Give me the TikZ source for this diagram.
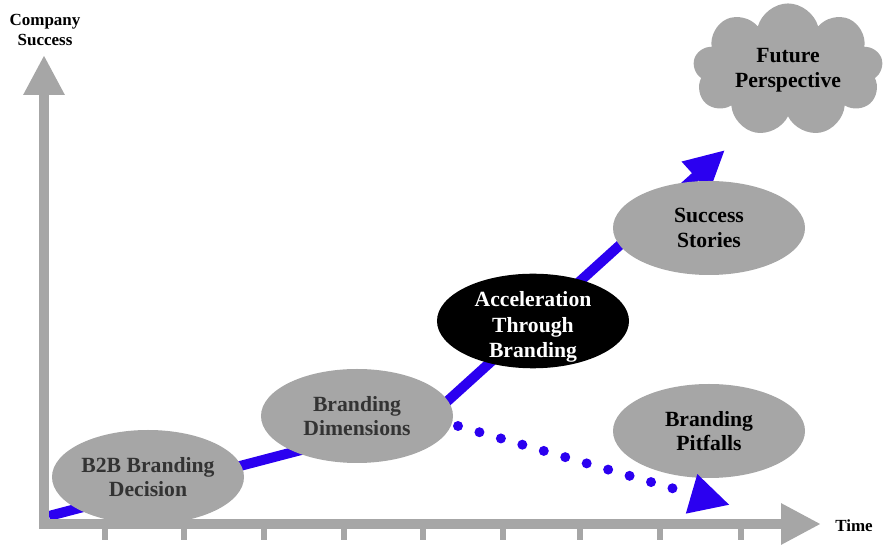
\documentclass[tikz,border=0pt]{standalone}
\usepackage{fontspec}
\setmainfont{Liberation Serif}
\usetikzlibrary{positioning}
\usetikzlibrary{calc}
\usetikzlibrary{arrows.meta}
\usetikzlibrary{shapes.geometric}
\usetikzlibrary{shapes.symbols}
\usetikzlibrary{backgrounds}

\definecolor{axisgray}{RGB}{166,166,166}
\definecolor{stepblue}{RGB}{43,0,240}
\definecolor{textgray}{RGB}{51,51,51}

\begin{document}
\begin{tikzpicture}[x=0.03cm, y=-0.03cm,
    axis/.style={axisgray, line width=0.3cm, -{Triangle[length=1.2cm, width=1.16cm]}},
    tick/.style={axisgray, line width=0.18cm},
    stage/.style={ellipse, fill=axisgray, inner sep=0pt,
        minimum width=5.76cm, minimum height=2.82cm, align=center,
        font=\fontsize{18.5}{21}\selectfont\bfseries},
    axislabel/.style={align=center, font=\fontsize{14.5}{16.5}\selectfont\bfseries},
    growth/.style={stepblue, line width=0.3cm, line join=round,
        -{Triangle[length=1.2cm, width=1.14cm]}}]
    \useasboundingbox (0, 0) rectangle (883, 545);

\coordinate (origin) at (44, 524);
\coordinate (y-tip) at (44, 55);
\coordinate (x-tip) at (821, 524);

\draw[axis] (44, 529) -- (y-tip);
\draw[axis] (39, 524) -- (x-tip);

\foreach \x in {105, 184, 264, 344, 423, 503, 580, 660, 741}
    \draw[tick] (\x, 528) -- (\x, 540);

\node[axislabel] (y-label) at (45, 30) {Company\\Success};
\node[axislabel] (x-label) at (854, 526) {Time};

\node[stage, text=textgray] (decision) at (148, 477) {B2B Branding\\Decision};
\node[stage, text=textgray] (dimensions) at (357, 416) {Branding\\Dimensions};
\node[stage, fill=black, text=white, inner ysep=-7pt,
    font=\fontsize{18.5}{22}\selectfont\bfseries] (acceleration) at (533, 321)
    {\rule{0pt}{23pt}Acceleration\\Through\\Branding};
\node[stage] (stories) at (709, 228) {Success\\Stories};
\node[stage] (pitfalls) at (709, 431) {Branding\\Pitfalls};

\node[cloud, cloud puffs=9, aspect=1.5, fill=axisgray, inner sep=0pt,
    minimum width=5.7cm, minimum height=3.75cm, align=center,
    font=\fontsize{18.5}{21}\selectfont\bfseries] (future) at (788, 70)
    {Future\\Perspective};

\coordinate (start) at (49, 516);
\coordinate (bend) at (431, 416);
\coordinate (rise) at (725, 150);
\coordinate (drop) at (458, 426);
\coordinate (fall) at (730, 505);

\begin{scope}[on background layer]
    \draw[growth] (start) -- (bend) -- (rise);
\end{scope}

% dotted branch, tip drawn on its own
\draw[stepblue, line width=0.3cm, line cap=round, dash pattern=on 0pt off 0.67cm]
    (drop) -- ($(drop)!0.8!(fall)$);
\draw[growth] ($(drop)!0.86!(fall)$) -- (fall);
\end{tikzpicture}
\end{document}
